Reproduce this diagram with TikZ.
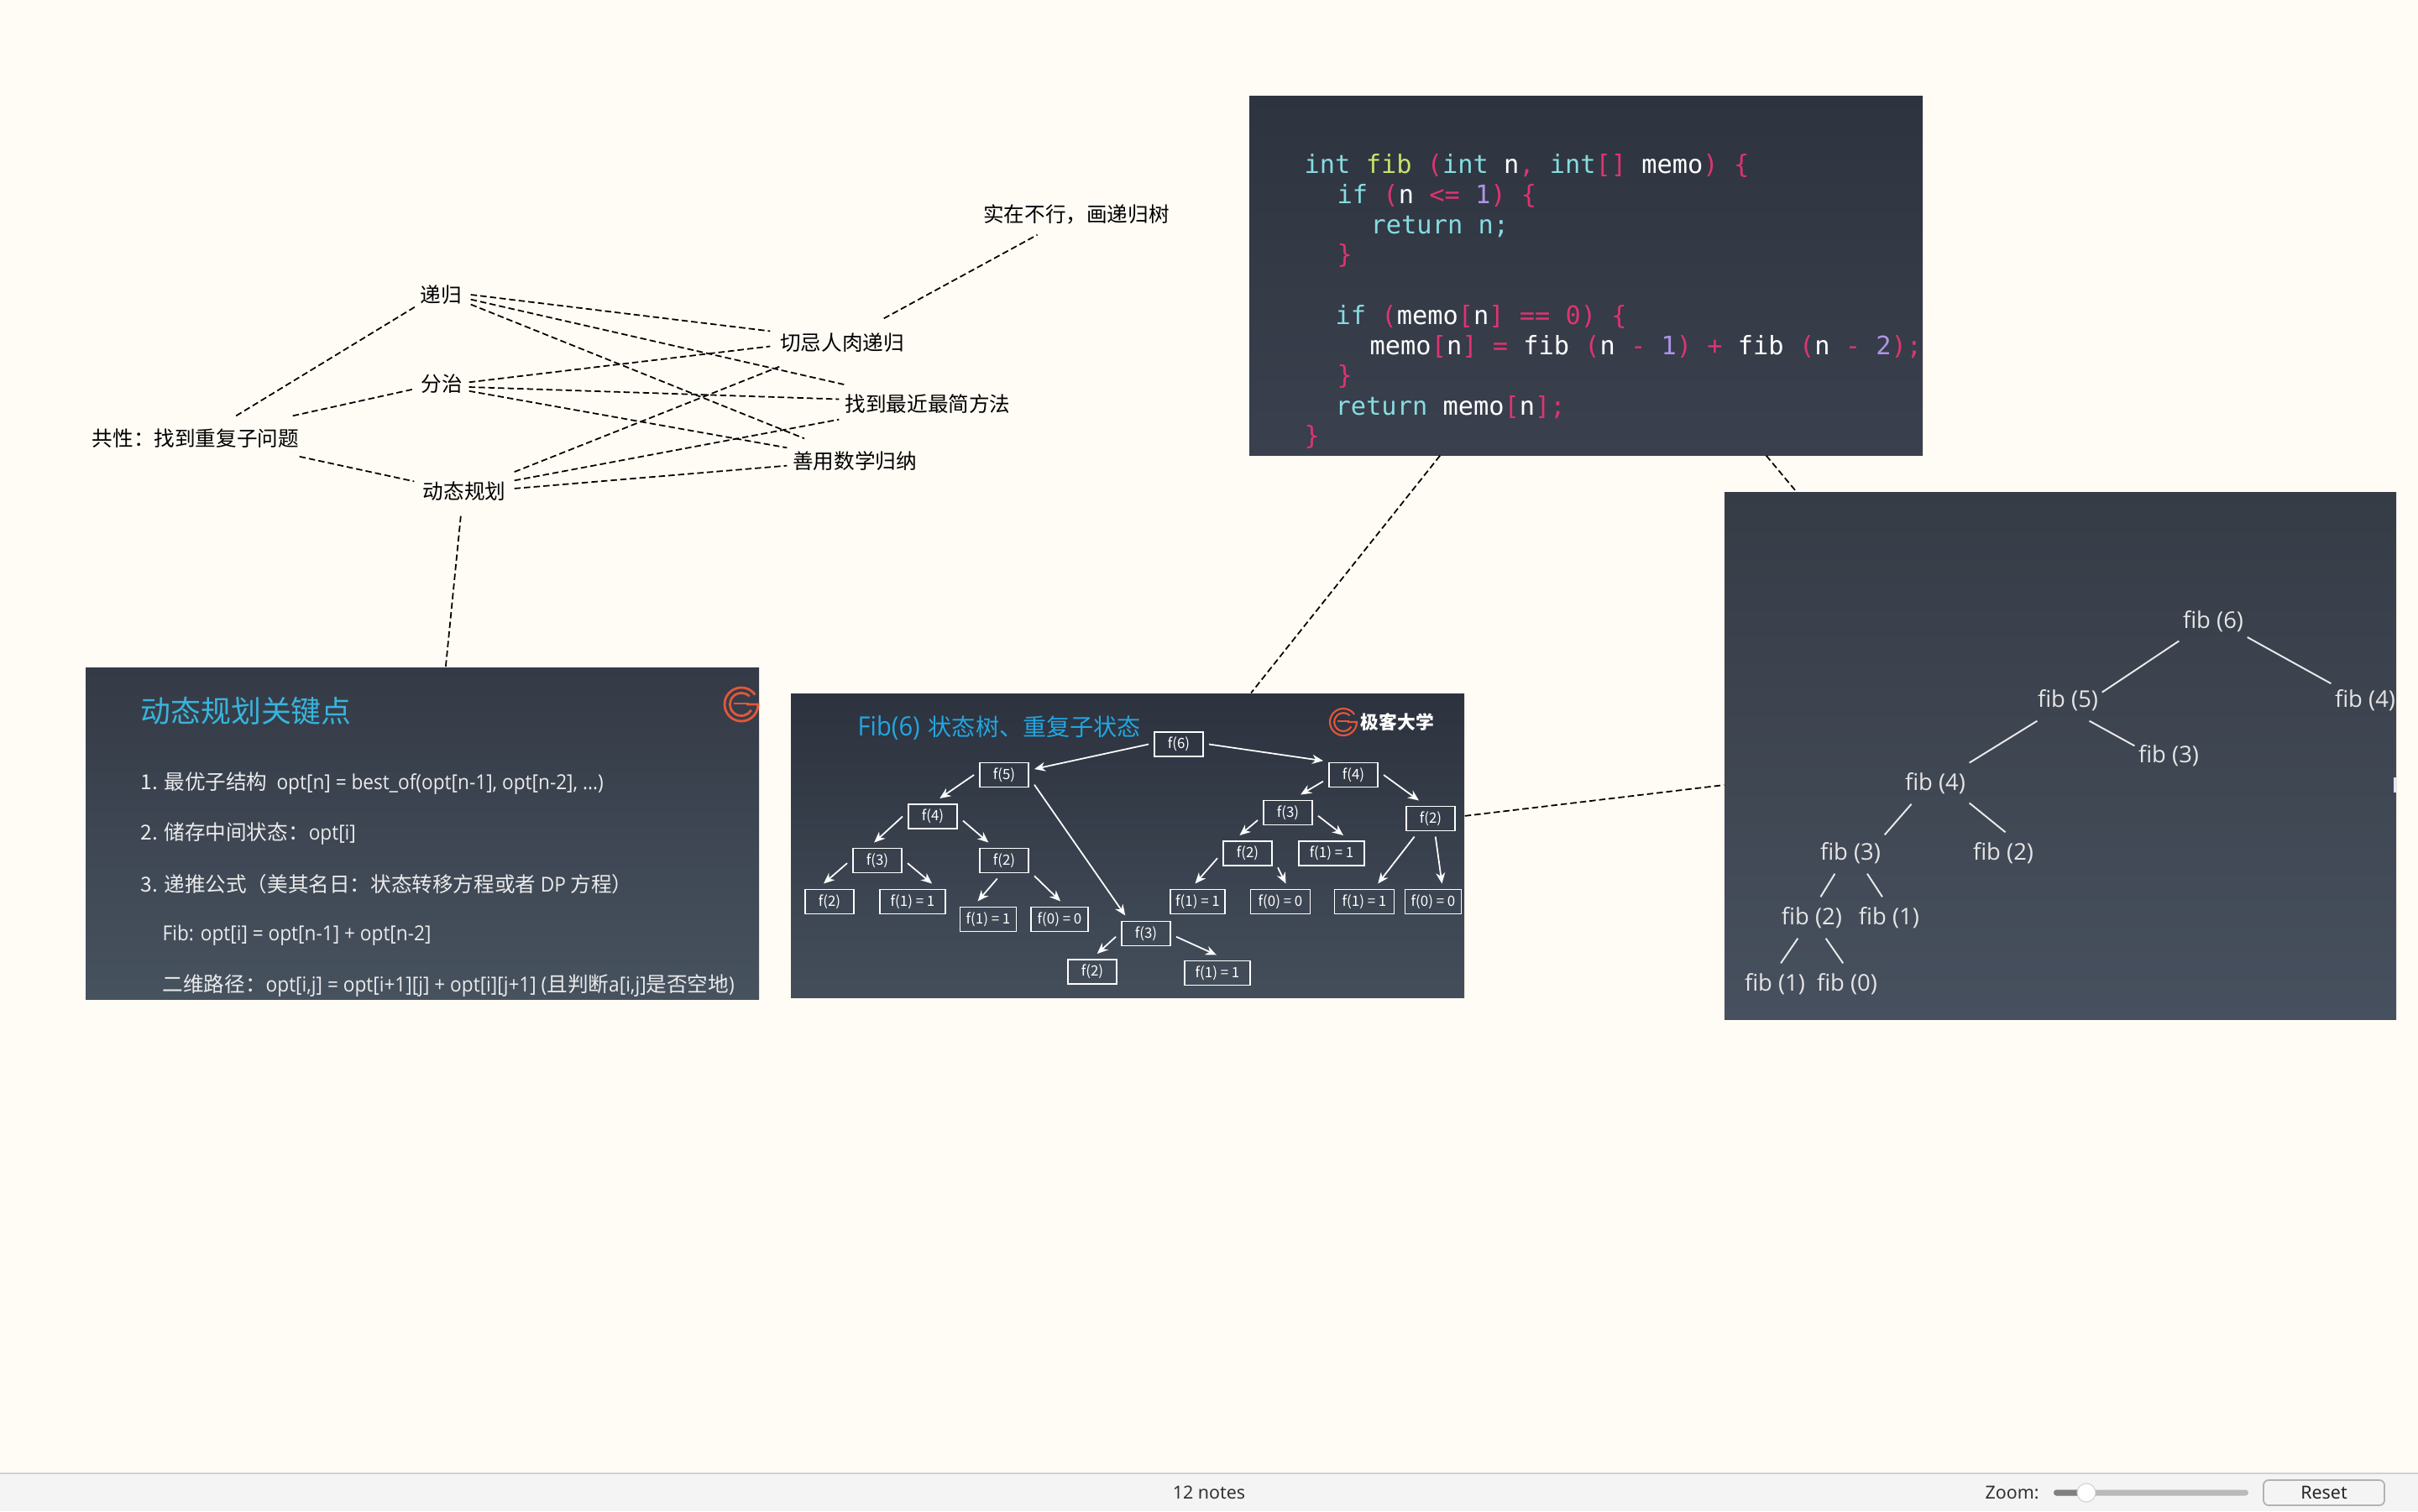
\documentclass[tikz,border=0pt]{standalone}
\usepackage{fontspec}
\setmainfont{Noto Sans CJK SC}
\newfontfamily\codefont{DejaVu Sans Mono}
\newfontfamily\slidelat[FakeStretch=0.92]{Open Sans}
\newfontfamily\fiblat{Open Sans}
\newfontfamily\uifont{Noto Sans}
\usetikzlibrary{arrows.meta,positioning}
\definecolor{papel}{HTML}{FFFCF5}
\definecolor{barra}{HTML}{F4F4F4}
\definecolor{barralinha}{HTML}{D0D0D0}
\definecolor{titazul}{HTML}{38B4DC}
\definecolor{titazulb}{HTML}{22A6E0}
\definecolor{logolar}{HTML}{E2573B}
\definecolor{codeteal}{HTML}{86DCE0}
\definecolor{codepink}{HTML}{DE3470}
\definecolor{codelime}{HTML}{C6E36A}
\definecolor{codelila}{HTML}{AE94E6}
\definecolor{keytop}{HTML}{343A46}
\definecolor{keybot}{HTML}{47525F}
\definecolor{treetop}{HTML}{2C323E}
\definecolor{treebot}{HTML}{444E5B}
\definecolor{codetop}{HTML}{2E343F}
\definecolor{codebot}{HTML}{3A404D}
\definecolor{fibtop}{HTML}{363C46}
\definecolor{fibbot}{HTML}{47505E}
\newcommand{\fsz}[1]{\fontsize{#1}{#1}\selectfont}
\newcommand{\kw}[1]{\textcolor{codeteal}{#1}}
\newcommand{\pk}[1]{\textcolor{codepink}{#1}}
\newcommand{\nmb}[1]{\textcolor{codelila}{#1}}
\newcommand{\lat}[1]{{\slidelat #1}}
\tikzset{
  mapnode/.style={inner sep=0pt, font=\fsz{7pt}, text=black},
  maplink/.style={black, dashed, line width=.5pt, dash pattern=on .075cm off .04cm},
  panelbg/.style={inner sep=0pt, shading=axis},
  slideline/.style={anchor=west, inner sep=0pt, text=white!92!black, font=\fsz{7pt}},
  codeline/.style={anchor=mid west, inner sep=0pt, text=white, font=\codefont\fsz{8.63pt}},
  statebox/.style={draw=white, line width=.55pt, inner sep=0pt, outer sep=.07cm, minimum width=.58cm,
    minimum height=.29cm, text=white, font=\fsz{4.8pt}},
  statearrow/.style={-{Stealth[length=1.3mm,width=1.1mm]}, white, line width=.5pt},
  fibnode/.style={inner sep=0pt, minimum width=.8cm, minimum height=.48cm, text=white!90!black, font=\fiblat\fsz{7.8pt}},
  fibline/.style={white!92!black, line width=.55pt},
  logoline/.style={logolar, line width=.5pt}
}
\begin{document}
\begin{tikzpicture}[x=1cm,y=-1cm]
\useasboundingbox (0,0) rectangle (28.8,18);
\fill[papel] (0,0) rectangle (28.8,18);
% slides
\node[panelbg, minimum width=8.02cm, minimum height=3.95cm, top color=keytop, bottom color=keybot]
      (panelkey) at (5.03,9.925) {};
\node[panelbg, minimum width=8.02cm, minimum height=3.62cm, top color=treetop, bottom color=treebot]
      (paneltree) at (13.43,10.07) {};
\node[panelbg, minimum width=8.02cm, minimum height=4.28cm, top color=codetop, bottom color=codebot]
      (panelcode) at (18.89,3.28) {};
\node[panelbg, minimum width=8.00cm, minimum height=6.28cm, top color=fibtop, bottom color=fibbot]
      (panelfib) at (24.54,9.00) {};
% mind map
\node[mapnode, minimum width=2.44cm, minimum height=.52cm] (gongxing) at (2.33,5.22) {共性：找到重复子问题};
\node[mapnode, minimum width=.70cm, minimum height=.26cm] (digui) at (5.25,3.51) {递归};
\node[mapnode, minimum width=.64cm, minimum height=.26cm] (fenzhi) at (5.26,4.57) {分治};
\node[mapnode, minimum width=1.18cm, minimum height=.58cm] (donggui) at (5.53,5.85) {动态规划};
\node[mapnode, minimum width=1.70cm, minimum height=.56cm] (qieji) at (10.03,4.08) {切忌人肉递归};
\node[mapnode, minimum width=2.10cm, minimum height=.44cm] (zhaodao) at (11.05,4.81) {找到最近最简方法};
\node[mapnode, minimum width=1.60cm, minimum height=.52cm] (shanyong) at (10.18,5.49) {善用数学归纳};
\node[mapnode, minimum width=2.30cm, minimum height=.48cm] (shizai) at (12.82,2.55) {实在不行，画递归树};
\draw[maplink] (gongxing.29) -- (digui.205.7);
\draw[maplink] (gongxing.13.3) -- (fenzhi.191);
\draw[maplink] (gongxing.350) -- (donggui.169);
\foreach \from/\fa/\to/\ta in {digui/0/qieji/171.3, digui/351.9/zhaodao/167, digui/342.6/shanyong/156.6,
    fenzhi/3.3/qieji/183.5, fenzhi/353.5/zhaodao/177.3, fenzhi/345.6/shanyong/169.4,
    donggui/21.8/qieji/201.6, donggui/12.4/zhaodao/190.8, donggui/3.9/shanyong/184.3,
    qieji/30.3/shizai/208.6, donggui/262/panelkey/82.5, panelcode/231/paneltree/51.1,
    panelcode/315.3/panelfib/135, paneltree/5.55/panelfib/185.4}{
  \draw[maplink] (\from.\fa) -- (\to.\ta);
}
% key points slide
\node[slideline, text=titazul, font=\fsz{10.2pt}] (keytitle) at (1.67,8.47) {动态规划关键点};
\node[slideline] (keyone) at (1.67,9.33) {1. 最优子结构\ \ \lat{opt[n] = best\_of(opt[n-1], opt[n-2], ...)}};
\node[slideline] (keytwo) at (1.67,9.93) {2. 储存中间状态：\lat{opt[i]}};
\node[slideline] (keythree) at (1.67,10.53) {3. 递推公式（美其名日：状态转移方程或者 \lat{DP} 方程）};
\node[slideline] (keyfour) at (1.93,11.14) {\lat{Fib: opt[i] = opt[n-1] + opt[n-2]}};
\node[slideline] (keyfive) at (1.93,11.74) {二维路径：\lat{opt[i,j] = opt[i+1][j] + opt[i][j+1] (}且判断\lat{a[i,j]}是否空地\lat{)}};
% logos
\foreach \cx/\cy/\rr/\lw in {8.83/8.39/.20cm/.8pt, 16.00/8.60/.16cm/.6pt}{
  \draw[logoline, line width=\lw] (\cx,\cy) ++(35:\rr) arc[start angle=35,end angle=360,radius=\rr] -- ++(-.7*\rr,0);
  \draw[logoline, line width=\lw] (\cx,\cy) ++(45:.68*\rr) arc[start angle=45,end angle=330,radius=.68*\rr];
  \draw[logoline, line width=\lw] (\cx,\cy) ++(-.45*\rr,.05*\rr) -- ++(.9*\rr,0);
}
\node[inner sep=0pt, anchor=west, text=white, font=\bfseries\fsz{6.2pt}] (treelogo) at (16.20,8.60) {极客大学};
% state tree slide
\node[slideline, text=titazulb, font=\fsz{8pt}] (treetitle) at (10.21,8.67) {\lat{\fsz{9pt}Fib(6)}\hspace{.1cm}状态树、重复子状态};
\node[statebox] (s6) at (14.04,8.865) {f(6)};
\node[statebox] (s5) at (11.96,9.23) {f(5)};
\node[statebox] (s4) at (11.11,9.725) {f(4)};
\node[statebox] (s3a) at (10.45,10.25) {f(3)};
\node[statebox] (s2a) at (11.96,10.25) {f(2)};
\node[statebox] (s2b) at (9.88,10.74) {f(2)};
\node[statebox, minimum width=.78cm] (s1a) at (10.87,10.74) {f(1) = 1};
\node[statebox, minimum width=.67cm] (s1b) at (11.77,10.95) {f(1) = 1};
\node[statebox, minimum width=.68cm] (s0a) at (12.62,10.95) {f(0) = 0};
\node[statebox] (s3b) at (13.65,11.12) {f(3)};
\node[statebox] (s2c) at (13.01,11.575) {f(2)};
\node[statebox, minimum width=.78cm] (s1c) at (14.50,11.59) {f(1) = 1};
\node[statebox] (r4) at (16.12,9.23) {f(4)};
\node[statebox] (r3) at (15.34,9.68) {f(3)};
\node[statebox] (r2) at (17.04,9.75) {f(2)};
\node[statebox] (r2b) at (14.86,10.165) {f(2)};
\node[statebox, minimum width=.78cm] (r1) at (15.86,10.165) {f(1) = 1};
\node[statebox, minimum width=.65cm] (r1b) at (14.265,10.74) {f(1) = 1};
\node[statebox, minimum width=.71cm] (r0b) at (15.25,10.74) {f(0) = 0};
\node[statebox, minimum width=.71cm] (r1c) at (16.25,10.74) {f(1) = 1};
\node[statebox, minimum width=.67cm] (r0c) at (17.07,10.74) {f(0) = 0};
\foreach \from/\fa/\to/\ta in {s6/180/s5/11, s6/0/r4/155, s5/180/s4/69, s5/342/s3b/139,
    s4/180/s3a/100, s4/352/s2a/131, s3a/185/s2b/108, s3a/355/s1a/43, s2a/249/s1b/120, s2a/333/s0a/87,
    s3b/186/s2c/75, s3b/354/s1c/93, r4/192/r3/55, r4/0/r2/123, r3/194/r2b/114, r3/354/r1/57,
    r2b/189/r1b/98, r2b/335/r0b/73, r2/228/r1c/53, r2/285/r0c/64}{
  \draw[statearrow] (\from.\fa) -- (\to.\ta);
}
% code slide
\node[codeline] (codea) at (15.53,1.97) {\kw{int} \textcolor{codelime}{fib} \pk{(}\kw{int} n\pk{,} \kw{int}\pk{[]} memo\pk{)} \pk{\{}};
\node[codeline] (codeb) at (15.92,2.33) {\kw{if} \pk{(}n \pk{<=} \nmb{1}\pk{)} \pk{\{}};
\node[codeline] (codec) at (16.32,2.69) {\kw{return n;}};
\node[codeline] (coded) at (15.92,3.04) {\pk{\}}};
\node[codeline] (codee) at (15.90,3.77) {\kw{if} \pk{(}memo\pk{[}n\pk{]} \pk{==} \pk{0}\pk{)} \pk{\{}};
\node[codeline] (codef) at (16.31,4.13) {memo\pk{[}n\pk{]} \pk{=} fib \pk{(}n \pk{-} \nmb{1}\pk{)} \pk{+} fib \pk{(}n \pk{-} \nmb{2}\pk{)}\pk{;}};
\node[codeline] (codeg) at (15.92,4.48) {\pk{\}}};
\node[codeline] (codeh) at (15.90,4.85) {\kw{return} memo\pk{[}n\pk{]}\pk{;}};
\node[codeline] (codei) at (15.53,5.20) {\pk{\}}};
% fib tree slide
\node[fibnode] (fibsix) at (26.36,7.40) {fib (6)};
\node[fibnode] (fibfive) at (24.63,8.34) {fib (5)};
\node[fibnode] (fibfourr) at (28.17,8.34) {fib (4)};
\node[fibnode] (fibthreer) at (25.83,9.00) {fib (3)};
\node[fibnode] (fibfour) at (23.05,9.33) {fib (4)};
\node[fibnode] (fibthree) at (22.04,10.16) {fib (3)};
\node[fibnode] (fibtwor) at (23.86,10.16) {fib (2)};
\node[fibnode] (fibtwo) at (21.58,10.93) {fib (2)};
\node[fibnode] (fibone) at (22.50,10.93) {fib (1)};
\node[fibnode] (fiboneb) at (21.14,11.72) {fib (1)};
\node[fibnode] (fibzero) at (22.00,11.72) {fib (0)};
\foreach \from/\fa/\to/\ta in {fibsix/210/fibfive/13, fibsix/335/fibfourr/154, fibfive/214/fibfour/31, fibfive/316/fibthreer/164,
    fibfour/221/fibthree/28, fibfour/330/fibtwor/84, fibthree/233/fibtwo/67, fibthree/309/fibone/108,
    fibtwo/236/fiboneb/74, fibtwo/304/fibzero/101}{
  \draw[fibline] (\from.\fa) -- (\to.\ta);
}
\fill[white!90!blue] (28.51,9.26) rectangle (28.54,9.44);
% status bar
\fill[barra] (0,17.55) rectangle (28.8,18);
\draw[barralinha, line width=.5pt] (0,17.55) -- (28.8,17.55);
\node[inner sep=0pt, text=black!80, font=\uifont\fsz{6.1pt}] (notecount) at (14.40,17.78) {12 notes};
\node[inner sep=0pt, anchor=west, text=black!80, font=\uifont\fsz{6.1pt}] (zoomlabel) at (23.64,17.78) {Zoom:};
\fill[black!27, rounded corners=.035cm] (24.46,17.745) rectangle (26.78,17.815);
\fill[black!50, rounded corners=.035cm] (24.46,17.745) rectangle (24.85,17.815);
\filldraw[fill=white, draw=black!18, line width=.3pt] (24.85,17.78) circle (.11cm);
\node[draw=black!30, line width=.5pt, rounded corners=.06cm, fill=barra, minimum width=1.44cm, minimum height=.30cm,
      inner sep=0pt, text=black!85, font=\uifont\fsz{6.1pt}] (resetbtn) at (27.68,17.78) {Reset};
\end{tikzpicture}
\end{document}
